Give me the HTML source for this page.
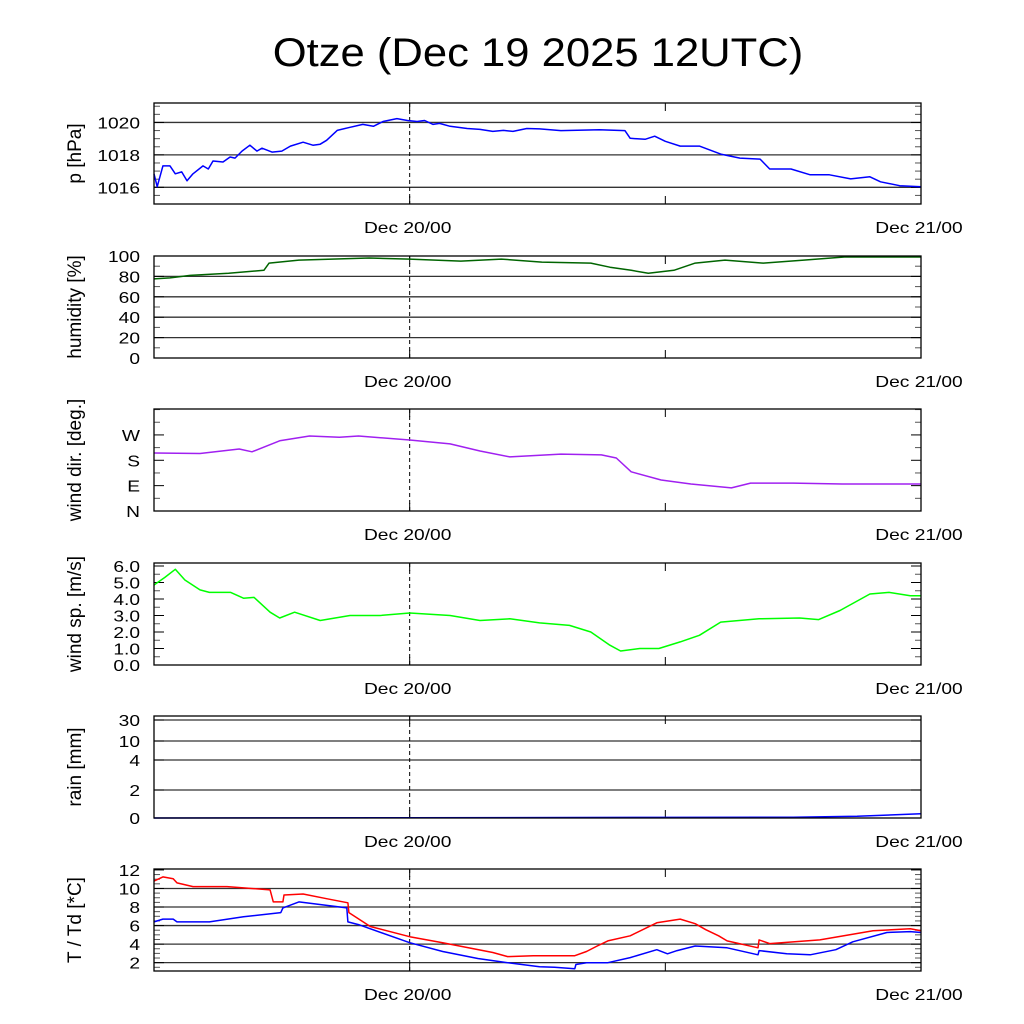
<!DOCTYPE html>
<html><head><meta charset="utf-8"><style>
html,body{margin:0;padding:0;background:#fff;}
svg{display:block;font-family:"Liberation Sans",sans-serif;}
</style></head><body>
<svg id="chart" width="1024" height="1024" viewBox="0 0 1024 1024" xmlns="http://www.w3.org/2000/svg">
<text transform="translate(538,66) scale(1.09,1)" font-size="40" text-anchor="middle">Otze (Dec 19 2025 12UTC)</text>
</svg>
<script>
const xTickHours = [12, 24, 36];
const xTickLabels = ["Dec 20/00", "", "Dec 21/00"];
const pT = [0,0.15,0.42,0.75,1.0,1.3,1.55,1.83,2.3,2.55,2.77,3.24,3.57,3.8,4.13,4.5,4.83,5.07,5.54,6.0,6.4,7.0,7.46,7.8,8.1,8.6,9.2,9.8,10.3,10.75,11.4,11.9,12.35,12.7,13.1,13.4,13.9,14.7,15.3,15.9,16.4,16.85,17.5,18.1,19.1,20.9,22.1,22.35,23.05,23.5,24,24.7,25.6,26.6,27.5,28.45,28.9,29.9,30.8,31.7,32.7,33.6,34.1,35.0,36];
const pV = [1016.83,1016.04,1017.32,1017.32,1016.83,1016.95,1016.4,1016.83,1017.32,1017.13,1017.62,1017.56,1017.87,1017.8,1018.23,1018.6,1018.23,1018.41,1018.17,1018.23,1018.54,1018.78,1018.6,1018.66,1018.9,1019.51,1019.7,1019.88,1019.76,1020.06,1020.24,1020.12,1020.06,1020.12,1019.88,1019.94,1019.76,1019.63,1019.57,1019.45,1019.51,1019.45,1019.63,1019.6,1019.5,1019.55,1019.5,1019.02,1018.96,1019.15,1018.84,1018.54,1018.54,1018.05,1017.8,1017.74,1017.13,1017.13,1016.77,1016.77,1016.52,1016.65,1016.34,1016.1,1016.04];
const hT = [0,0.75,1.7,3.5,5.16,5.4,6.8,10.1,12.0,14.4,16.3,18.2,20.5,21.4,22.4,23.2,24.4,25.4,26.8,28.6,30.5,32.4,34.3,36];
const hV = [77.5,78.5,81,83,86,93,96,98,97,95,97,94,93,89,86,83,86,93,96,93,96,99,99,99];
const dT = [0,2.16,4.0,4.6,5.9,7.3,8.7,9.6,12.0,13.9,15.3,16.7,19.1,21.0,21.7,22.4,23.8,25.2,27.1,28.0,30.0,32.3,36];
const dV = [206,204,220,210,249,266,262,266,252,238,213,192,202,199,188,139,110,96,82,99,99,96,96];
const wT = [0,0.5,1.0,1.45,2.16,2.6,3.6,4.2,4.7,5.45,5.9,6.6,7.8,9.2,10.6,12.0,13.9,15.3,16.7,18.1,19.5,20.5,21.4,21.9,22.8,23.7,24.7,25.6,26.6,28.4,30.3,31.2,32.2,33.6,34.5,35.5,36];
const wV = [4.85,5.3,5.8,5.15,4.55,4.4,4.4,4.05,4.1,3.2,2.85,3.2,2.7,3.0,3.0,3.15,3.0,2.7,2.8,2.55,2.4,2.0,1.2,0.85,1.0,1.0,1.4,1.8,2.6,2.8,2.85,2.75,3.3,4.3,4.4,4.2,4.2];
const rT = [0,12,24,30,33,36];
const rV = [0,0.02,0.04,0.06,0.12,0.3];
const tT = [0,0.42,0.9,1.08,1.83,3.43,5.45,5.6,6.05,6.1,7.0,8.1,9.1,9.15,10.15,12.0,13.55,15.9,16.6,17.8,19.75,20.3,20.8,21.3,22.35,23.6,24.7,25.4,25.9,26.5,26.9,28.35,28.4,28.9,31.25,33.75,35.5,36];
const tV = [10.8,11.25,11.05,10.6,10.2,10.2,9.85,8.55,8.55,9.3,9.4,8.9,8.45,7.4,5.9,4.8,4.15,3.1,2.65,2.75,2.75,3.2,3.8,4.35,4.9,6.3,6.7,6.2,5.55,4.9,4.35,3.6,4.45,4.05,4.45,5.45,5.65,5.45];
const tdT = [0,0.42,0.9,1.08,2.6,4.2,5.95,6.05,6.8,9.05,9.1,9.6,12.0,13.55,15.2,16.6,18.1,18.8,19.75,19.8,20.3,21.3,22.35,23.6,24.1,24.55,25.4,26.9,28.35,28.4,29.7,30.8,32.0,32.8,34.4,35.5,36];
const tdV = [6.4,6.7,6.7,6.4,6.4,6.95,7.4,7.9,8.55,7.9,6.4,6.1,4.15,3.2,2.45,2.0,1.55,1.5,1.35,1.8,2.0,2.0,2.55,3.4,2.95,3.3,3.8,3.6,2.85,3.3,2.95,2.85,3.4,4.25,5.25,5.35,5.25];

const NS = "http://www.w3.org/2000/svg";
const svg = document.getElementById('chart');
const X0 = 154, X1 = 921, HOURS = 36;
const xs = h => X0 + (X1 - X0) * h / HOURS;
function el(tag, attrs, parent) {
  const e = document.createElementNS(NS, tag);
  for (const k in attrs) e.setAttribute(k, attrs[k]);
  (parent || svg).appendChild(e);
  return e;
}
function linScale(top, bot, vmin, vmax) { return v => bot - (v - vmin) / (vmax - vmin) * (bot - top); }
function pwScale(top, bot, dom, rng) {
  return v => { for (let i = 0; i < dom.length - 1; i++) { if (v <= dom[i+1]) { const f = (v - dom[i]) / (dom[i+1] - dom[i]); return rng[i] + f * (rng[i+1] - rng[i]); } } return rng[rng.length-1]; };
}
const panels = [
  {name:'pressure', top:103, bot:204, ys:linScale(103,204,1014.97,1021.2), grid:[1016,1018,1020], labels:['1016','1018','1020'], minor:[1015.5,1016.5,1017,1017.5,1018.5,1019,1019.5,1020.5,1021], title:'p [hPa]', series:[[pT,pV,'#0000ff']]},
  {name:'humidity', top:256, bot:358, ys:linScale(256,358,0,100), grid:[0,20,40,60,80,100], labels:['0','20','40','60','80','100'], minor:[10,30,50,70,90], title:'humidity [%]', series:[[hT,hV,'#006400']]},
  {name:'wind-direction', top:409, bot:511, ys:linScale(409,511,0,362), grid:[0,90,180,270], labels:['N','E','S','W'], gridLines:false, minor:[45,135,225,315,360], title:'wind dir. [deg.]', series:[[dT,dV,'#a020f0']]},
  {name:'wind-speed', top:563, bot:665, ys:linScale(566,665,0,6), grid:[0,1,2,3,4,5,6], labels:['0.0','1.0','2.0','3.0','4.0','5.0','6.0'], gridLines:false, minor:[0.5,1.5,2.5,3.5,4.5,5.5], title:'wind sp. [m/s]', series:[[wT,wV,'#00ff00']]},
  {name:'rain', top:716, bot:818, ys:pwScale(716,818,[0,2,4,10,30,40],[818,790,760,741,720,716]), grid:[0,2,4,10,30], labels:['0','2','4','10','30'], minor:[], title:'rain [mm]', series:[[rT,rV,'#0000ff']]},
  {name:'temperature', top:869, bot:971, ys:linScale(869,971,1.1,12.1), grid:[2,4,6,8,10,12], labels:['2','4','6','8','10','12'], minor:[3,5,7,9,11,1.5,2.5,3.5,4.5,5.5,6.5,7.5,8.5,9.5,10.5,11.5], title:'T / Td [*C]', series:[[tT,tV,'#ff0000'],[tdT,tdV,'#0000ff']]}
];
panels.forEach(p => {
  const g = el('g', {});
  
  
  p.grid.forEach((v, i) => {
    const y = p.ys(v);
    if (p.gridLines !== false && y > p.top + 1 && y < p.bot - 1) {
      const gl = el('line', {x1:X0, x2:X1, y1:y, y2:y, stroke:'#333', 'stroke-width':1.3}, g);
      
      
    }
    el('line', {x1:X0, x2:X0+10, y1:y, y2:y, stroke:'#000', 'stroke-width':1}, g);
    el('line', {x1:X1-10, x2:X1, y1:y, y2:y, stroke:'#000', 'stroke-width':1}, g);
    const t = el('text', {transform:'translate(' + (X0-14) + ',' + (y+6) + ') scale(1.2,1)', 'font-size':16, 'text-anchor':'end'}, g);
    
    
    t.textContent = p.labels[i];
  });
  p.minor.forEach(v => {
    const y = p.ys(v);
    el('line', {x1:X0, x2:X0+6, y1:y, y2:y, stroke:'#555', 'stroke-width':1}, g);
    el('line', {x1:X1-6, x2:X1, y1:y, y2:y, stroke:'#555', 'stroke-width':1}, g);
  });
  const dl = el('line', {x1:xs(12), x2:xs(12), y1:p.top, y2:p.bot, stroke:'#000', 'stroke-width':1, 'stroke-dasharray':'4,3'}, g);
  
  
  xTickHours.forEach((h, i) => {
    el('line', {x1:xs(h), x2:xs(h), y1:p.bot-8, y2:p.bot, stroke:'#000', 'stroke-width':1}, g);
    el('line', {x1:xs(h), x2:xs(h), y1:p.top, y2:p.top+8, stroke:'#000', 'stroke-width':1}, g);
    if (xTickLabels[i]) {
      const t = el('text', {transform:'translate(' + (xs(h)-2) + ',' + (p.bot+29) + ') scale(1.2,1)', 'font-size':16, 'text-anchor':'middle'}, g);
      
      
      t.textContent = xTickLabels[i];
    }
  });
  p.series.forEach(s => {
    const [ts, vs, col] = s;
    const pts = ts.map((h, i) => xs(h).toFixed(1) + ',' + p.ys(vs[i]).toFixed(1)).join(' ');
    const pl = el('polyline', {points:pts, fill:'none', stroke:col, 'stroke-width':1.5, 'stroke-linejoin':'round'}, g);
    
    
  });
  const fr = el('rect', {x:X0, y:p.top, width:X1-X0, height:p.bot-p.top, fill:'none', stroke:'#000', 'stroke-width':1.3}, g);
  
  
  const cy = (p.top + p.bot) / 2;
  const yt = el('text', {x:0, y:0, 'font-size':19, 'text-anchor':'middle', transform:'translate(81,' + cy + ') rotate(-90)'}, g);
  
  
  yt.textContent = p.title;
});
</script>
</body></html>
